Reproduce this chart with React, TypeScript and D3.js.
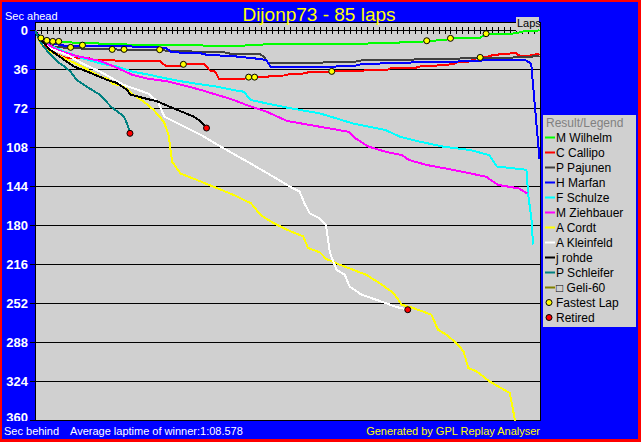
import React from 'react';
import * as d3 from 'd3';

const title = 'Dijonp73 - 85 laps';
const totalLaps = 85;
const yTicks = [0, 36, 72, 108, 144, 180, 216, 252, 288, 324, 360];
const drivers = ['M Wilhelm', 'C Callipo', 'P Pajunen', 'H Marfan', 'F Schulze', 'M Ziehbauer', 'A Cordt', 'A Kleinfeld', 'j rohde', 'P Schleifer', '\u25A1 Geli-60'];
const colors = ['#00ff00', '#ff0000', '#404040', '#0000ff', '#00ffff', '#ff00ff', '#ffff00', '#ffffff', '#000000', '#008080', '#808000'];

// [lap, seconds behind]
const wilhelm: [number, number][] = [[0,0],[1,7.4],[2,9.6],[3,10.5],[4,10.5],[6,11.5],[9,12.2],[14,13],[18,14],[28,14.2],[30,14.8],[35,14.5],[37,13.4],[47,13.3],[49,12.6],[60,12.4],[62,11.2],[65,11],[66,9.8],[69,9.6],[70,7.6],[75,7.2],[76,3.6],[81,3.2],[82,1.4],[84,1.2],[85,0.2]];
const callipo: [number, number][] = [[0,0],[1,10],[2,16],[3,20],[4,23],[5,25.5],[9,26],[10,28],[21,28.5],[22,33],[24.5,33],[25,31.7],[28.5,31.7],[29.5,37.5],[30.4,38.5],[31,45.5],[35,45.5],[36,43.5],[39,43.3],[40,42.2],[42,42],[43,40.6],[45,40.4],[46,39.1],[49.5,39],[50,38.2],[55,38],[56,36.6],[59.5,36.5],[60,35.1],[64,35],[65,33.6],[67.5,33.5],[68,32],[70.5,31.8],[71,29.9],[73,29.5],[74.5,25.5],[76,25.3],[77,23.4],[79,22],[81,21.4],[81.5,23.5],[83,24],[84,22.8],[85,22]];
const pajunen: [number, number][] = [[0,0],[1,9],[2,13],[3,15],[4,16],[6,16.5],[9,17.5],[10,17.9],[21,18.2],[22,19],[26,19.3],[27,20.5],[32,20.7],[33,22],[38,22.5],[38.6,25],[39.3,30.6],[48,30.5],[49,29.5],[54,29.2],[55,28],[63,28],[64,27.1],[71,27],[72,25.9],[80,25.8],[81,25],[83.5,25],[84,24.2],[85,24]];
const marfan: [number, number][] = [[0,0],[1,8],[2,11],[3,12.5],[5,14.5],[16,14.8],[17,16],[22,16.2],[23,20.5],[28,21.6],[29,23],[33,24],[34,24.5],[38,26.8],[39,28],[39.8,34.5],[50,34.6],[51,33.3],[54,33],[55,31.4],[58,31],[59,30.5],[63,30.3],[64,29.5],[71,29.3],[72,28.6],[75,28.4],[76,27.4],[82.5,27.4],[83.6,31],[85,119]];
const schulze: [number, number][] = [[0,0],[1,10],[3,15.5],[5,20],[8,26],[11,30.8],[14,34],[16.5,38.5],[19.5,41.6],[22,44.6],[25,47.7],[28,50.2],[30.6,52.3],[33.4,55.4],[35.2,57],[36.3,64.6],[39,67.7],[42.5,71.7],[48,77],[50.8,81.6],[53.5,86.2],[56.3,89.3],[59,92.3],[61.5,98.5],[64.8,103],[68.8,107.7],[73.3,110.8],[76.5,115.4],[77.8,126],[82.8,129],[83.1,152],[83.7,177],[83.9,198]];
const ziehbauer: [number, number][] = [[0,0],[1,8],[2,13],[4,19],[7,24],[11,28.6],[13,33],[16.5,41.6],[19,45],[22,47.1],[25,51],[28,55.4],[33.5,64.6],[36,70],[39,75.4],[42.5,84],[48,89.3],[52.8,93.9],[54,100],[56.2,107.7],[59,112.3],[61.8,115.4],[63,120],[66,124.6],[70.5,129.2],[76,135.4],[78,143],[81.5,146.2],[82.9,150.8]];
const cordt: [number, number][] = [[0,0],[1,13],[2,18],[3,21],[5,26.2],[8,34],[11,43],[12.3,45.2],[13,49.3],[15,52.3],[16.6,60],[18.3,66],[20,73.8],[21.7,84.6],[22.5,97],[23.1,121.6],[24.5,132.4],[28,140],[33.5,152.3],[36.4,160],[38,170.8],[39.8,177],[42.4,184.3],[45.2,190.5],[46,201.2],[48,205.3],[49.1,211.4],[51.3,216.6],[55.8,225.9],[58,233.5],[60.4,242.8],[61.8,253.6],[63.7,256.6],[66.8,262.8],[67.9,276.7],[69.3,281.3],[71,288.9],[72.2,296.7],[73,312],[74.4,315.1],[76.6,324.4],[80,335.1],[81,364]];
const kleinfeld: [number, number][] = [[0,0],[1,10],[2,15],[3,18],[5.5,23.1],[8,31],[11,38.5],[15,50.8],[19,58.5],[20.7,66.2],[21.8,80],[23.5,84.6],[28,97],[31.3,107.7],[35.8,121.6],[39.2,132.4],[43,144.7],[44.6,149.3],[45.4,160],[46.3,169.3],[48,174],[49,179.7],[49.7,205.8],[50.8,221.3],[52.2,225.9],[53,236.7],[55,244.3],[57.5,249],[60.9,255.7],[62.8,258.2]];
const rohde: [number, number][] = [[0,0],[1,9],[2.5,18.2],[4,24],[6.5,33.6],[8.7,38.2],[12.1,45.9],[13.8,48.9],[15.5,55.1],[16.1,59.7],[18.3,62.8],[20.6,65.9],[23.9,73.6],[26.7,79.8],[27.9,84.4],[28.9,90.5]];
const schleifer: [number, number][] = [[0,0],[1,12],[2,19],[3,25],[4,30],[5,34],[6,38.5],[7,46],[8.7,52.3],[11,60],[12.8,70.8],[15,80],[15.6,87.7],[16,95.4]];
const geli: [number, number][] = [];

const series = [wilhelm, callipo, pajunen, marfan, schulze, ziehbauer, cordt, kleinfeld, rohde, schleifer, geli];

const fastestLaps: [number, number][] = [[1,7.4],[2,9.6],[3,10.5],[4,10.5],[6,16],[8,14],[13,17.9],[15,17.9],[21,18.2],[25,31.7],[36,43.5],[37,43.5],[50,38.2],[66,9.9],[70,7.7],[75,25.3],[76,3.4]];
const retired: [number, number][] = [[16,95.4],[28.9,90.5],[62.8,258.2]];

const footerLeft = 'Sec behind';
const footerMid = 'Average laptime of winner:1:08.578';
const footerRight = 'Generated by GPL Replay Analyser';

export default function App() {
  const W = 641, H = 442;
  const left = 35, right = 540, top = 22, bottom = 420;
  const x = d3.scaleLinear().domain([0, totalLaps]).range([35, 539.5]);
  const y = d3.scaleLinear().domain([0, 360]).range([30, 420]);
  const line = d3.line<[number, number]>().x(d => x(d[0])).y(d => y(d[1]));
  const lapTicks = d3.range(0, totalLaps + 1);
  const font = "'Liberation Sans', Arial, sans-serif";
  const legendItems = [...drivers, 'Fastest Lap', 'Retired'];

  return (
    <svg width={W} height={H} style={{ position: 'absolute', left: 0, top: 0, display: 'block' }} fontFamily={font}>
      <defs>
        <clipPath id="plotClip"><rect x={left} y={top} width={right - left} height={bottom - top + 1} /></clipPath>
        <clipPath id="labelClip"><rect x={0} y={0} width={left} height={421} /></clipPath>
      </defs>
      <rect width={W} height={H} fill="#ff0000" />
      <rect x={2} y={2} width={636} height={437} fill="#0000ff" />
      <rect x={left + 0.5} y={top + 0.5} width={right - left - 0.5} height={bottom - top} fill="#d0d0d0" stroke="#000" strokeWidth={1} shapeRendering="crispEdges" />
      {yTicks.map(t => (
        <line key={'g' + t} x1={30} x2={right} y1={Math.round(y(t)) + 0.5} y2={Math.round(y(t)) + 0.5} stroke="#000" strokeWidth={1} shapeRendering="crispEdges" />
      ))}
      {lapTicks.map(l => (
        <line key={'t' + l} x1={Math.round(x(l)) + 0.5} x2={Math.round(x(l)) + 0.5} y1={27} y2={34} stroke="#000" strokeWidth={1} shapeRendering="crispEdges" />
      ))}
      <g clipPath="url(#labelClip)">
        {yTicks.map(t => (
          <text key={'l' + t} x={28} y={Math.min(y(t) + 5, 422)} textAnchor="end" fill="#fff" fontWeight="bold" fontSize={13}>{t}</text>
        ))}
      </g>
      <rect x={516} y={17} width={23} height={14} fill="#d0d0d0" />
      <text x={517} y={27} fontSize={11} fill="#000">Laps</text>
      <g clipPath="url(#plotClip)">
        {series.map((s, i) => s.length ? (
          <path key={'s' + i} d={line(s) || ''} fill="none" stroke={colors[i]} strokeWidth={2} strokeLinejoin="round" shapeRendering="crispEdges" />
        ) : null)}
        {fastestLaps.map((p, i) => (
          <circle key={'f' + i} cx={x(p[0])} cy={y(p[1])} r={3} fill="#ffff00" stroke="#000" strokeWidth={1} />
        ))}
        {retired.map((p, i) => (
          <circle key={'r' + i} cx={x(p[0])} cy={y(p[1])} r={3} fill="#ff0000" stroke="#000" strokeWidth={1} />
        ))}
      </g>
      <text x={319} y={21} textAnchor="middle" fontSize={19} fill="#ffff00">{title}</text>
      <text x={5} y={20} fontSize={11} fill="#fff">Sec ahead</text>
      <text x={4} y={435} fontSize={11} fill="#fff">{footerLeft}</text>
      <text x={70} y={435} fontSize={11} fill="#fff">{footerMid}</text>
      <text x={540} y={435} textAnchor="end" fontSize={11} fill="#ffff00">{footerRight}</text>
      <rect x={543} y={115} width={93} height={212} fill="#d0d0d0" />
      <text x={546} y={127} fontSize={12} fill="#808080">Result/Legend</text>
      {legendItems.map((name, i) => {
        const cy = 137.5 + 15 * i;
        return (
          <g key={'lg' + i}>
            {i < drivers.length ? (
              <line x1={545} x2={555} y1={cy} y2={cy} stroke={colors[i]} strokeWidth={2} />
            ) : (
              <circle cx={549} cy={cy} r={3} fill={i === drivers.length ? '#ffff00' : '#ff0000'} stroke="#000" strokeWidth={1} />
            )}
            <text x={556} y={cy + 4.3} fontSize={12} fill="#000">{name}</text>
          </g>
        );
      })}
    </svg>
  );
}
